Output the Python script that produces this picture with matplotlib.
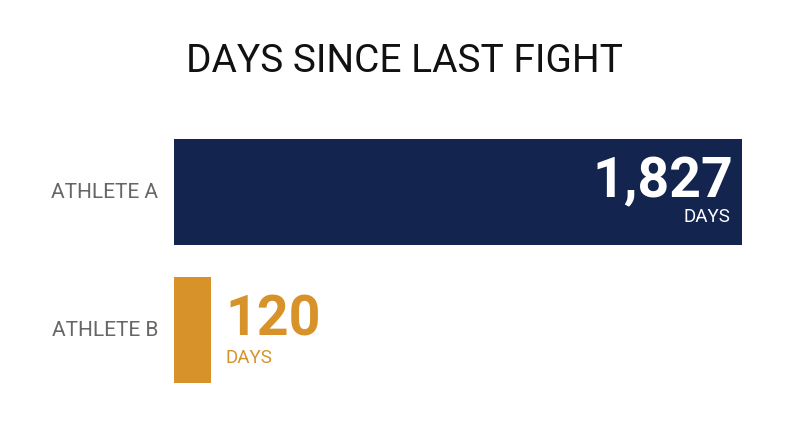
import matplotlib
matplotlib.use("Agg")
import matplotlib.pyplot as plt

athletes = ["ATHLETE A", "ATHLETE B"]
days = [1827, 120]
value_labels = ["1,827", "120"]
colors = ["#13254F", "#D8922A"]

plt.rcParams['font.family'] = ['Roboto', 'DejaVu Sans']

fig = plt.figure(figsize=(8, 4.47), dpi=100)
fig.patch.set_facecolor("white")
ax = fig.add_axes([174/800, 64/447, 568/800, 244/447])
ypos = [0, 1]
h = 106/138
ax.barh(ypos, days, height=h, color=colors)
ax.set_xlim(0, max(days))
ax.set_ylim(1 + h/2, -h/2)
ax.axis("off")

fig.text(0.506, 1 - 62/447, "DAYS SINCE LAST FIGHT", ha="center", va="center",
         fontsize=28, color="#111111")

for y, name in zip(ypos, athletes):
    ax.annotate(name, xy=(0, y), xytext=(-11.5, 0), textcoords="offset points",
                ha="right", va="center", fontsize=15, color="#666666",
                annotation_clip=False)

# Athlete A: inside bar, right aligned
ax.annotate(value_labels[0], xy=(days[0], ypos[0]), xytext=(-6.5, 7),
            textcoords="offset points", ha="right", va="center",
            fontsize=40, fontweight="bold", color="white")
ax.annotate("DAYS", xy=(days[0], ypos[0]), xytext=(-8.5, -18),
            textcoords="offset points", ha="right", va="center",
            fontsize=13.5, color="white")

# Athlete B: outside bar
ax.annotate(value_labels[1], xy=(days[1], ypos[1]), xytext=(10, 7),
            textcoords="offset points", ha="left", va="center",
            fontsize=40, fontweight="bold", color=colors[1], annotation_clip=False)
ax.annotate("DAYS", xy=(days[1], ypos[1]), xytext=(10, -20),
            textcoords="offset points", ha="left", va="center",
            fontsize=13.5, color=colors[1], annotation_clip=False)

fig.savefig("out.png", dpi=100, facecolor="white")
